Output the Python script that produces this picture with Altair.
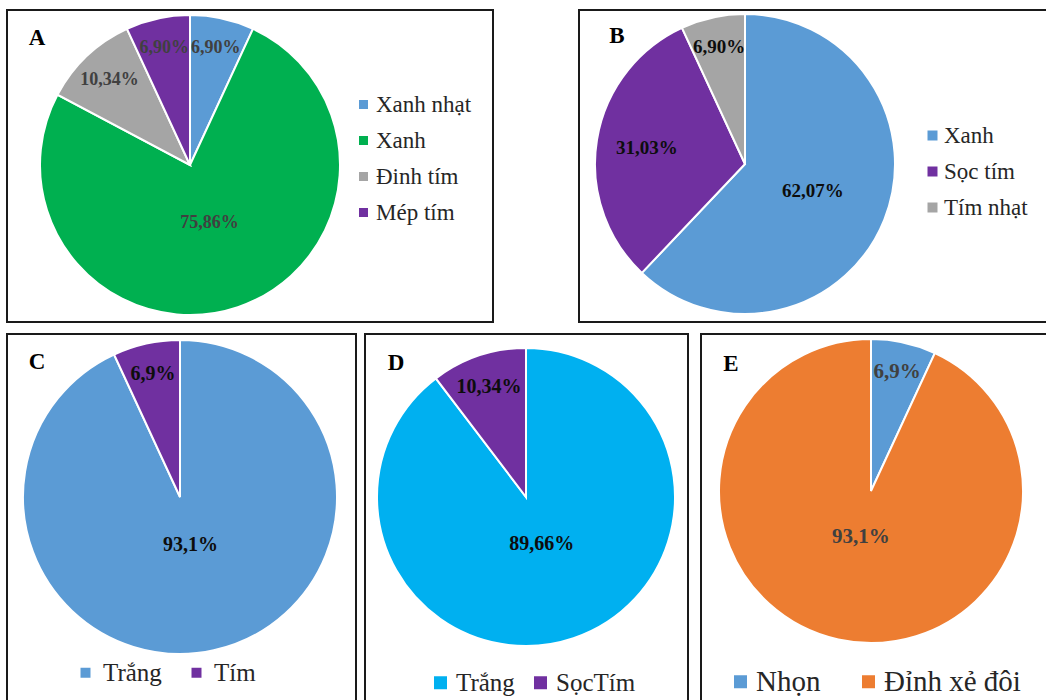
import altair as alt
import pandas as pd

# A: leaf colour
a_cats = ["Xanh nhạt", "Xanh", "Đinh tím", "Mép tím"]
a_vals = [6.90, 75.86, 10.34, 6.90]
a_colors = ["#5B9BD5", "#00B050", "#A5A5A5", "#7030A0"]

# B: stem colour
b_cats = ["Xanh", "Sọc tím", "Tím nhạt"]
b_vals = [62.07, 31.03, 6.90]
b_colors = ["#5B9BD5", "#7030A0", "#A5A5A5"]

# C: flower colour
c_cats = ["Trắng", "Tím"]
c_vals = [93.1, 6.9]
c_colors = ["#5B9BD5", "#7030A0"]

# D: fruit colour
d_cats = ["Trắng", "SọcTím"]
d_vals = [89.66, 10.34]
d_colors = ["#00B0F0", "#7030A0"]

# E: petal tip shape
e_cats = ["Nhọn", "Đỉnh xẻ đôi"]
e_vals = [6.9, 93.1]
e_colors = ["#5B9BD5", "#ED7D31"]

SERIF = "Liberation Serif"


def frame(cats, vals, decimals):
    labels = [f"{v:.{decimals}f}".replace(".", ",") + "%" for v in vals]
    return pd.DataFrame({"cat": cats, "value": vals,
                         "idx": list(range(len(cats))), "label": labels})


def pie(cats, vals, colors, decimals, cx, cy, r, label_size, label_color, legend):
    df = frame(cats, vals, decimals)
    base = alt.Chart(df).encode(
        theta=alt.Theta("value:Q", stack=True),
        order=alt.Order("idx:Q"),
        x=alt.value(cx),
        y=alt.value(cy),
    )
    arcs = base.mark_arc(radius=r, stroke="white", strokeWidth=2).encode(
        color=alt.Color(
            "cat:N",
            scale=alt.Scale(domain=cats, range=colors),
            legend=alt.Legend(
                title=None, orient="none", symbolType="square",
                symbolStrokeWidth=0, labelFont=SERIF, labelColor="#262626",
                labelLimit=400, padding=0, **legend,
            ),
        )
    )
    # labels of small slices sit near the rim, the large slice's label near the centre
    labels = base.mark_text(
        font=SERIF, fontWeight="bold", fontSize=label_size, color=label_color
    ).encode(
        radius=alt.Radius(
            "value:Q",
            scale=alt.Scale(type="linear", domain=[6.9, 93.1],
                            range=[0.80 * r, 0.31 * r], zero=False, clamp=True),
        ),
        text="label:N",
    )
    return [arcs, labels]


def box(x0, x1, y0, y1):
    return alt.Chart(pd.DataFrame({"k": [0]})).mark_rect(
        fill="white", fillOpacity=0, stroke="#1a1a1a", strokeWidth=2
    ).encode(x=alt.value(x0), x2=alt.value(x1), y=alt.value(y0), y2=alt.value(y1))


def letter(t, x, y):
    return alt.Chart(pd.DataFrame({"k": [0]})).mark_text(
        font=SERIF, fontWeight="bold", fontSize=23, color="#000000",
        align="center", baseline="middle",
    ).encode(x=alt.value(x), y=alt.value(y), text=alt.value(t))


layers = [
    box(7, 493, 10, 322),
    box(579, 1052, 10, 322),
    box(7, 356, 334, 706),
    box(365, 688, 334, 706),
    box(701, 1052, 334, 706),
]

layers += pie(a_cats, a_vals, a_colors, 2, 190, 165, 150, 18, "#404040",
              dict(legendX=352, legendY=93, direction="vertical", symbolSize=81,
                   labelFontSize=23, labelOffset=1, rowPadding=12))
layers += pie(b_cats, b_vals, b_colors, 2, 745, 164, 150, 19, "#0d0d0d",
              dict(legendX=921, legendY=124, direction="vertical", symbolSize=100,
                   labelFontSize=23, labelOffset=0, rowPadding=12))
layers += pie(c_cats, c_vals, c_colors, 1, 180, 497, 157, 20, "#0d0d0d",
              dict(legendX=73, legendY=660, direction="horizontal", columns=2,
                   symbolSize=100, labelFontSize=25, labelOffset=5,
                   columnPadding=22))
layers += pie(d_cats, d_vals, d_colors, 2, 526, 497, 149, 20, "#0d0d0d",
              dict(legendX=428, legendY=670, direction="horizontal", columns=2,
                   symbolSize=169, labelFontSize=25, labelOffset=3,
                   columnPadding=13))
layers += pie(e_cats, e_vals, e_colors, 1, 871, 491, 152, 21, "#404040",
              dict(legendX=726, legendY=667, direction="horizontal", columns=2,
                   symbolSize=169, labelFontSize=29, labelOffset=1,
                   columnPadding=33))

layers += [
    letter("A", 37, 38),
    letter("B", 617, 36),
    letter("C", 37, 362),
    letter("D", 396, 363),
    letter("E", 731, 364),
]

chart = (
    alt.layer(*layers)
    .resolve_scale(color="independent", theta="independent", radius="independent")
    .resolve_legend(color="independent")
    .properties(width=1046, height=700, padding=0,
                autosize=alt.AutoSizeParams(type="none"))
    .configure_view(strokeWidth=0)
    .configure_legend(labelFont=SERIF)
)

chart.save("out.html", embed_options={"renderer": "svg", "actions": False})
